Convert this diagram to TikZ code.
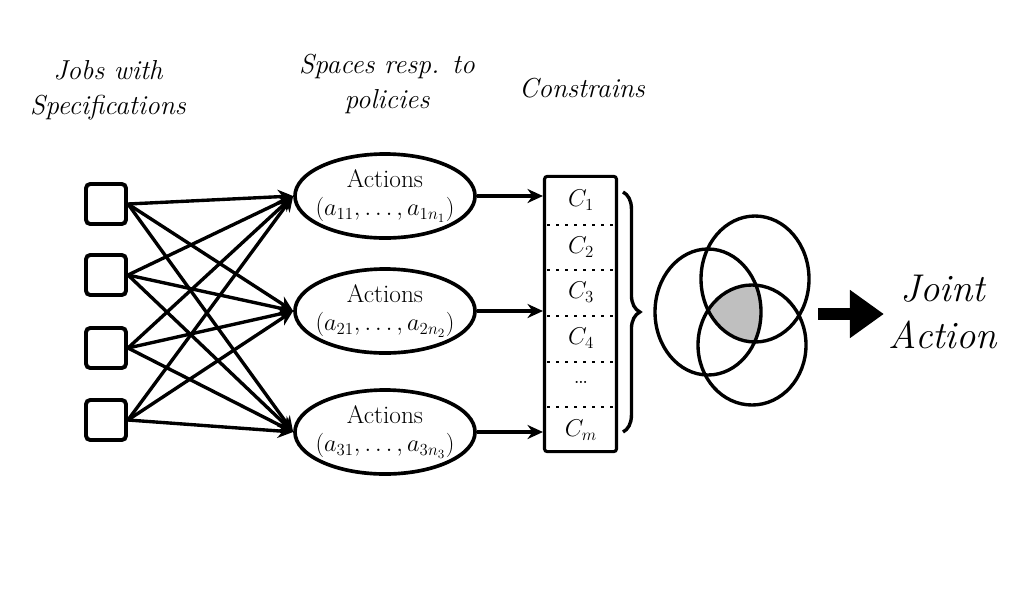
\documentclass[tikz,border=0pt]{standalone}
\usepackage{fontspec}
\usetikzlibrary{positioning,arrows.meta,calc,shapes.geometric,decorations.pathreplacing}
\definecolor{VennGray}{RGB}{191,191,191}

\begin{document}
\begin{tikzpicture}[x=0.025cm, y=-0.025cm, every node/.style={align=center}]
\tikzset{
  head/.style={font=\fontsize{19.5}{25}\selectfont\itshape},
  job/.style={draw, line width=2.8pt, rounded corners=3pt, minimum size=1.0cm},
  act/.style={draw, ellipse, line width=2.6pt, minimum width=4.5cm, minimum height=2.1cm, inner xsep=-8pt, inner ysep=0pt, font=\fontsize{18}{20}\selectfont},
  cons/.style={draw, line width=2.2pt, rounded corners=2pt, minimum width=1.8cm, minimum height=6.88cm},
  row/.style={font=\fontsize{18}{18}\selectfont},
  sep/.style={line width=2pt, dash pattern=on 2pt off 4.4pt},
  arr/.style={-{Stealth[length=11pt, width=10pt]}, line width=2.4pt},
  venn/.style={draw, line width=2.4pt},
  fatarr/.style={-{Triangle[length=0.85cm, width=1.15cm]}, line width=0.3cm}
}
  \useasboundingbox (0,0) rectangle (1024,600);

  % headings
  \node[head] (jobs) at (108,90) {Jobs with\\Specifications};
  \node[head] (spaces) at (387,84) {Spaces resp. to\\policies};
  \node[head] (constr) at (582,88) {Constrains};

  % jobs
  \node[job] (sq1) at (106,204) {};
  \node[job] (sq2) at (106,275) {};
  \node[job] (sq3) at (106,348) {};
  \node[job] (sq4) at (106,420) {};

  % action spaces
  \node[act] (act1) at (385,196) {Actions\\$(a_{11},\ldots,a_{1n_1})$};
  \node[act] (act2) at (385,311) {Actions\\$(a_{21},\ldots,a_{2n_2})$};
  \node[act] (act3) at (385,432) {Actions\\$(a_{31},\ldots,a_{3n_3})$};

  \foreach \j in {1,...,4}
    \foreach \a in {1,2,3}
      \draw[arr] (sq\j.east) -- (act\a.west);

  % constraints
  \node[cons] (cbox) at (580.5,314) {};
  \node[row] (c1) at (581,200) {$C_1$};
  \node[row] (c2) at (581,247) {$C_2$};
  \node[row] (c3) at (581,292) {$C_3$};
  \node[row] (c4) at (581,338) {$C_4$};
  \node[row] (c5) at (581,382) {\ldots};
  \node[row] (c6) at (581,430) {$C_m$};
  \foreach \y in {225,270,316,362,407}
    \draw[sep] (547,\y) -- (616,\y);

  \draw[arr] (act1.east) -- (act1.east -| cbox.west);
  \draw[arr] (act2.east) -- (act2.east -| cbox.west);
  \draw[arr] (act3.east) -- (act3.east -| cbox.west);

  \draw[line width=2.4pt, decorate, decoration={brace, amplitude=12pt}] (623,192) -- (623,432);

  % intersection
  \begin{scope}
    \clip (708,312) ellipse [x radius=53, y radius=63];
    \clip (755,279) ellipse [x radius=54, y radius=63];
    \fill[VennGray] (752,345) ellipse [x radius=54, y radius=60];
  \end{scope}
  \draw[venn] (708,312) ellipse [x radius=53, y radius=63];
  \draw[venn] (755,279) ellipse [x radius=54, y radius=63];
  \draw[venn] (752,345) ellipse [x radius=54, y radius=60];

  \node[font=\fontsize{27.5}{33}\selectfont\itshape] (joint) at (943,312) {Joint\\Action};
  \coordinate (vennout) at (818,314);
  \draw[fatarr] (vennout) -- (vennout -| joint.west);
\end{tikzpicture}
\end{document}
